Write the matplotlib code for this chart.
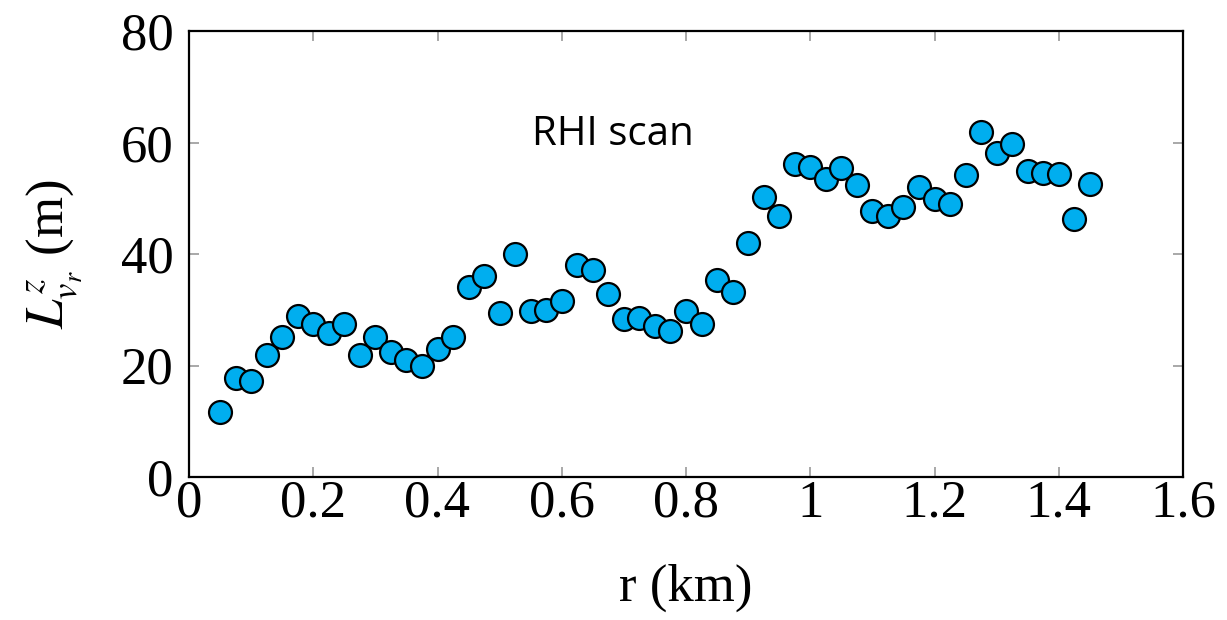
import matplotlib
matplotlib.use("Agg")
import matplotlib.pyplot as plt
import numpy as np

r_km = [0.05, 0.075, 0.1, 0.125, 0.15, 0.175, 0.2, 0.225, 0.25, 0.275,
        0.3, 0.325, 0.35, 0.375, 0.4, 0.425, 0.45, 0.475, 0.5, 0.525,
        0.55, 0.575, 0.6, 0.625, 0.65, 0.675, 0.7, 0.725, 0.75, 0.775,
        0.8, 0.825, 0.85, 0.875, 0.9, 0.925, 0.95, 0.975, 1.0, 1.025,
        1.05, 1.075, 1.1, 1.125, 1.15, 1.175, 1.2, 1.225, 1.25, 1.275,
        1.3, 1.325, 1.35, 1.375, 1.4, 1.425, 1.45]
L_m = [11.6, 17.7, 17.3, 21.8, 25.1, 28.8, 27.4, 25.8, 27.5, 21.9,
       25.2, 22.5, 21.0, 20.0, 22.9, 25.1, 34.1, 36.0, 29.4, 40.0,
       29.8, 30.0, 31.6, 38.1, 37.1, 32.9, 28.3, 28.6, 27.0, 26.2,
       29.8, 27.4, 35.3, 33.2, 41.9, 50.2, 46.9, 56.2, 55.6, 53.4,
       55.5, 52.3, 47.8, 46.9, 48.4, 52.0, 49.8, 48.9, 54.2, 61.8,
       58.1, 59.7, 54.9, 54.5, 54.4, 46.3, 52.6]

xticks = [0, 0.2, 0.4, 0.6, 0.8, 1.0, 1.2, 1.4, 1.6]
xticklabels = ["0", "0.2", "0.4", "0.6", "0.8", "1", "1.2", "1.4", "1.6"]
yticks = [0, 20, 40, 60, 80]

plt.rcParams['font.family'] = ['Liberation Serif', 'DejaVu Serif']
plt.rcParams['mathtext.fontset'] = 'stix'

fig = plt.figure(figsize=(12.27, 6.2), dpi=100)
ax = fig.add_axes([189/1227, 1 - 477/620, (1183-189)/1227, (477-31)/620])

ax.plot(r_km, L_m, linestyle='none', marker='o', markersize=16.5,
        markerfacecolor='#00AEEF', markeredgecolor='black', markeredgewidth=1.6,
        clip_on=False, zorder=3)

ax.set_xlim(0, 1.6)
ax.set_ylim(0, 80)
ax.set_xticks(xticks)
ax.set_xticklabels(xticklabels)
ax.set_yticks(yticks)
ax.tick_params(axis='both', which='both', direction='in', length=7, width=1.2,
               color='#999999', labelsize=38, top=True, right=True)
ax.tick_params(axis='x', pad=2)
ax.tick_params(axis='y', pad=11)
for s in ax.spines.values():
    s.set_linewidth(1.6)
    s.set_color('black')

ax.set_xlabel('r (km)', fontsize=38, labelpad=26)
ax.set_ylabel(r'$L^{z}_{v_r}$ (m)', fontsize=38, labelpad=26)

ax.text(0.683, 59.6, 'RHI scan', fontsize=29, family='Open Sans',
        ha='center', va='baseline')

fig.savefig('out.png', dpi=100)
